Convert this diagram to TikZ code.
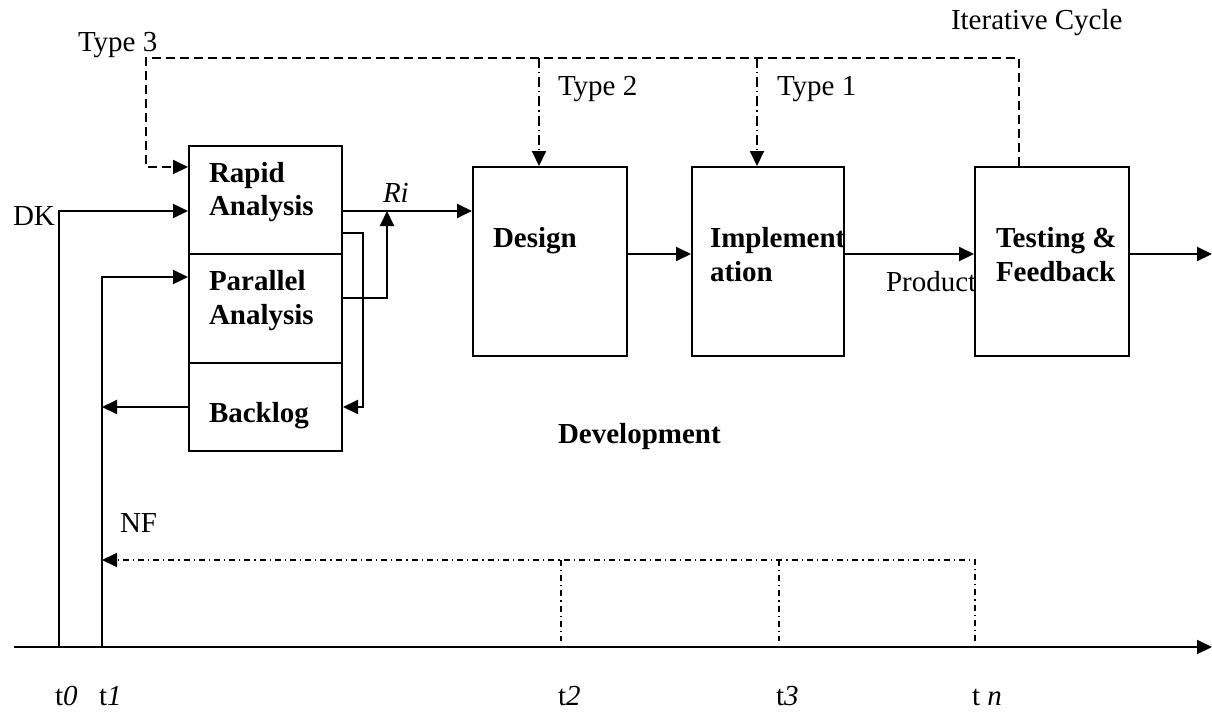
\documentclass[tikz,border=0pt]{standalone}
\usepackage{fontspec}
\setmainfont{Liberation Serif}
\usetikzlibrary{arrows.meta,fit}
\begin{document}
\begin{tikzpicture}[x=0.5pt,y=-0.5pt,line width=1pt,
  every node/.style={font=\fontsize{14.5}{17}\selectfont,inner sep=0pt},
  box/.style={draw,rectangle,inner sep=0pt,line width=1pt},
  lbl/.style={anchor=base west},
  blbl/.style={anchor=base west,font=\fontsize{14.5}{17}\selectfont\bfseries},
  arr/.style={-{Triangle[length=7.5pt,width=7pt]}},
  dashA/.style={dash pattern=on 4.5pt off 2.5pt},
  dashB/.style={dash pattern=on 5pt off 2pt on 0.6pt off 2pt},
  dashC/.style={dash pattern=on 3pt off 2pt on 0.6pt off 2pt}]
\useasboundingbox (0,0) rectangle (1212,712);
% boxes
\node[box,fit={(189,146) (342,254)}] (rapid) {};
\node[box,fit={(189,254) (342,363)}] (par) {};
\node[box,fit={(189,363) (342,451)}] (back) {};
\node[box,fit={(473,167) (627,356)}] (design) {};
\node[box,fit={(692,167) (844,356)}] (impl) {};
\node[box,fit={(975,167) (1129,356)}] (test) {};
% helper coordinates
\coordinate (topR) at (1019,58);
\coordinate (topL) at (146,58);
\coordinate (ty2) at (539,58);
\coordinate (ty1) at (757,58);
\coordinate (yT3) at (0,167);
\coordinate (yRi) at (0,211);
\coordinate (y233) at (0,233);
\coordinate (y254) at (0,254);
\coordinate (y277) at (0,277);
\coordinate (y298) at (0,298);
\coordinate (yNF) at (0,560);
\coordinate (yTk) at (0,641);
\coordinate (ax0) at (14,647);
\coordinate (ax1) at (1212,647);
\coordinate (t0b) at (59,647);
\coordinate (t1b) at (102,647);
\coordinate (fbR) at (363,233);
\coordinate (fbB) at (363,407);
\coordinate (pJ) at (387,298);
\coordinate (riJ) at (387,211);
\coordinate (outE) at (1212,254);
\coordinate (x2) at (561,0);
\coordinate (x3) at (779,0);
\coordinate (xn) at (975,0);
% iterative cycle (dashed)
\draw[dashA,arr] (test.north -| topR) -- (topR) -- (topL) |- (rapid.west |- yT3);
\draw[dashB,arr] (ty2) -- (design.north -| ty2);
\draw[dashB,arr] (ty1) -- (impl.north -| ty1);
% inputs
\draw[arr] (t0b) |- (rapid.west |- yRi);
\draw[arr] (t1b) |- (par.west |- y277);
% analysis outputs
\draw[arr] (rapid.east |- yRi) -- (design.west |- yRi);
\draw[arr] (rapid.east |- y233) -- (fbR) -- (fbB) -- (back.east |- fbB);
\draw[arr] (par.east |- y298) -- (pJ) -- (riJ);
\draw[arr] (back.west |- fbB) -- (t1b |- fbB);
% development chain
\draw[arr] (design.east |- y254) -- (impl.west |- y254);
\draw[arr] (impl.east |- y254) -- (test.west |- y254);
\draw[arr] (test.east |- y254) -- (outE);
% NF feedback
\draw[dashC,arr] (xn |- yTk) -- (xn |- yNF) -- (t1b |- yNF);
\draw[dashC] (x2 |- yNF) -- (x2 |- yTk);
\draw[dashC] (x3 |- yNF) -- (x3 |- yTk);
% time axis
\draw[arr] (ax0) -- (ax1);
% texts
\node[lbl] (lt3) at (77,52) {Type 3};
\node[lbl] (lic) at (950,29) {Iterative Cycle};
\node[lbl] (lt2) at (557,95) {Type 2};
\node[lbl] (lt1) at (776,95) {Type 1};
\node[lbl] (ldk) at (12,225) {DK};
\node[lbl] (lri) at (382,202) {\itshape Ri};
\node[blbl] (r1) at (208,182) {Rapid};
\node[blbl] (r2) at (208,215) {Analysis};
\node[blbl] (p1) at (208,290) {Parallel};
\node[blbl] (p2) at (208,324) {Analysis};
\node[blbl] (b1) at (208,422) {Backlog};
\node[blbl] (d1) at (492,247) {Design};
\node[blbl] (i1) at (709,247) {Implement};
\node[blbl] (i2) at (709,281) {ation};
\node[blbl] (f1) at (995,247) {Testing \&};
\node[blbl] (f2) at (995,281) {Feedback};
\node[lbl] (lpr) at (885,291) {Product};
\node[blbl] (ldev) at (557,443) {Development};
\node[lbl] (lnf) at (119,532) {NF};
\node[lbl] (lt0) at (54,705) {t\textit{0}};
\node[lbl] (ltA) at (98,705) {t\textit{1}};
\node[lbl] (ltB) at (557,705) {t\textit{2}};
\node[lbl] (ltC) at (775,705) {t\textit{3}};
\node[lbl] (ltn) at (971,705) {t \textit{n}};
\end{tikzpicture}
\end{document}
